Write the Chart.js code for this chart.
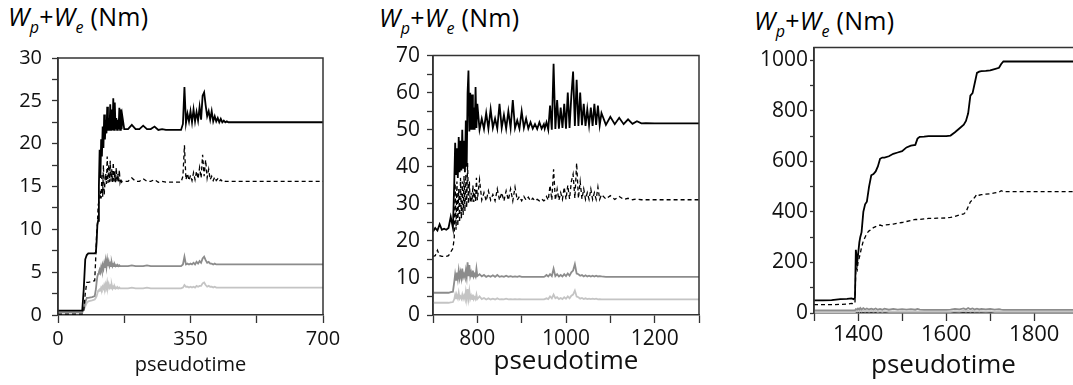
<!DOCTYPE html>
<html>
<head>
<meta charset="utf-8">
<script src="https://cdn.jsdelivr.net/npm/chart.js@4.4.1/dist/chart.umd.min.js"></script>
<style>
  html, body { margin: 0; padding: 0; background: #fff; }
  #wrap { position: relative; width: 1073px; height: 385px; overflow: hidden; font-family: 'Open Sans', sans-serif; }
  canvas { position: absolute; }
  .ttl { position: absolute; font-size: 25px; color: #000; white-space: nowrap; line-height: 1; letter-spacing: 0.3px; }
  .ttl i { font-style: italic; }
  .ttl sub { font-size: 16px; font-style: italic; vertical-align: -7px; line-height: 0; }
</style>
</head>
<body>
<div id="wrap">
  <div class="ttl" style="left:8px;top:4px"><i>W</i><sub>p</sub>+<i>W</i><sub>e</sub> (Nm)</div>
  <div class="ttl" style="left:379px;top:5px"><i>W</i><sub>p</sub>+<i>W</i><sub>e</sub> (Nm)</div>
  <div class="ttl" style="left:754px;top:8px"><i>W</i><sub>p</sub>+<i>W</i><sub>e</sub> (Nm)</div>
  <canvas id="c1" width="345" height="349" style="left:0;top:36px"></canvas>
  <canvas id="c2" width="360" height="349" style="left:360px;top:36px"></canvas>
  <canvas id="c3" width="353" height="352" style="left:720px;top:33px"></canvas>
</div>
<script>
'use strict';

// ---- panel 1 : pseudotime 0 - 700 ----
const p1X = [0, 64, 68, 72, 76, 80, 90, 97, 100,
  102, 104, 106, 108, 110, 112, 114, 116, 118, 120, 122, 124, 126, 128, 130, 132, 134, 136, 138, 140,
  142, 144, 146, 148, 150, 152, 154, 156, 158, 160, 162, 164, 166, 168, 170,
  175, 185, 195, 205, 215, 225, 235, 245, 255, 265, 275, 285, 295, 305, 315, 325,
  330, 334, 338, 342, 346, 350, 354, 358, 362, 366, 370, 374, 378, 382, 386, 390, 394, 398, 402, 406,
  410, 414, 418, 422, 426, 430, 434, 438, 442, 446, 450,
  470, 500, 550, 600, 650, 700];
const p1Black = [0.5, 0.5, 3, 6.5, 7.0, 7.2, 7.2, 7.2, 7.3,
  8.5, 10.5, 11, 15, 19.3, 16, 20.5, 18.5, 22, 19.5, 23.4, 20.5, 22.8, 21.2, 24.3, 21.5, 23, 21.5, 24.6, 21.6,
  24, 21.6, 25.3, 21.6, 24.8, 21.7, 23, 21.6, 22.8, 21.7, 24.2, 21.6, 24, 21.7, 23.2,
  21.7, 21.7, 22.2, 21.7, 21.7, 22.1, 21.7, 21.7, 22.0, 21.6, 21.7, 21.6, 21.6, 21.6, 21.6, 21.6,
  22.3, 26.6, 22.4, 23.5, 22.6, 23.8, 22.5, 24, 22.6, 23.7, 22.7, 24.3, 22.8, 25.6, 26, 24.5, 23.2, 23.8, 22.8, 23.8,
  22.6, 23.2, 22.6, 23, 22.5, 22.9, 22.5, 22.7, 22.5, 22.6, 22.5,
  22.5, 22.5, 22.5, 22.5, 22.5, 22.5];
const p1Dashed = [0.1, 0.1, 0.5, 2.5, 3.8, 3.8, 3.9, 4, 7,
  9.5, 10.5, 12.8, 13.2, 13.5, 14.5, 13.6, 16.5, 13.8, 17.5, 14, 15.5, 16.5, 15.3, 18.5, 15.4, 17.6, 15.5, 18, 15.6,
  17, 15.5, 17.8, 15.6, 16.8, 15.5, 17.2, 15.5, 16.5, 15.6, 16.9, 15.5, 15.9, 15.5, 15.6,
  15.6, 15.6, 16.0, 15.6, 15.6, 15.9, 15.6, 15.6, 15.8, 15.5, 15.6, 15.5, 15.5, 15.5, 15.5, 15.5,
  16.2, 19.8, 15.8, 16.5, 15.7, 16.3, 15.7, 16.6, 15.8, 16.8, 15.9, 17.2, 16, 18.7, 16.2, 18.1, 16, 17, 15.8, 16.2,
  15.7, 16.1, 15.7, 15.9, 15.6, 15.8, 15.6, 15.7, 15.6, 15.6, 15.6,
  15.6, 15.6, 15.6, 15.6, 15.6, 15.6];
const p1Dark = [0.3, 0.3, 0.8, 1.5, 2, 2, 2.1, 2.2, 3,
  3.8, 4.5, 4.8, 5.0, 5.3, 5.0, 5.6, 5.2, 5.8, 5.4, 6.0, 5.5, 6.3, 5.6, 6.4, 5.7, 6.2, 5.7, 6.0, 5.7,
  6.1, 5.7, 5.9, 5.7, 5.9, 5.7, 5.8, 5.7, 5.8, 5.7, 5.8, 5.7, 5.7, 5.7, 5.7,
  5.7, 5.7, 5.8, 5.7, 5.7, 5.7, 5.8, 5.7, 5.7, 5.7, 5.7, 5.7, 5.7, 5.7, 5.7, 5.7,
  5.9, 6.8, 5.9, 6.0, 5.9, 6.0, 5.9, 6.1, 5.9, 6.2, 6.0, 6.3, 6.1, 6.6, 6.8, 6.4, 6.1, 6.2, 6.0, 6.0,
  5.9, 6.0, 5.9, 5.9, 5.9, 5.9, 5.9, 5.9, 5.9, 5.9, 5.9,
  5.9, 5.9, 5.9, 5.9, 5.9, 5.9];
const p1Light = [0.3, 0.3, 0.6, 1.0, 1.4, 1.6, 1.7, 1.8, 2.0,
  2.2, 2.5, 2.8, 2.9, 3.0, 2.9, 3.2, 3.0, 3.3, 3.1, 3.5, 3.2, 3.6, 3.2, 3.8, 3.2, 3.6, 3.2, 3.4, 3.1,
  3.5, 3.1, 3.3, 3.1, 3.3, 3.1, 3.2, 3.1, 3.2, 3.1, 3.2, 3.1, 3.1, 3.1, 3.1,
  3.1, 3.1, 3.2, 3.1, 3.1, 3.1, 3.2, 3.1, 3.1, 3.1, 3.1, 3.1, 3.1, 3.1, 3.1, 3.1,
  3.2, 3.5, 3.3, 3.3, 3.2, 3.3, 3.2, 3.3, 3.2, 3.4, 3.3, 3.4, 3.4, 3.7, 3.8, 3.5, 3.3, 3.4, 3.3, 3.3,
  3.2, 3.3, 3.2, 3.2, 3.2, 3.2, 3.2, 3.2, 3.2, 3.2, 3.2,
  3.2, 3.2, 3.2, 3.2, 3.2, 3.2];
const p1XTicks = [0, 175, 350, 525, 700];
const p1XLabels = [0, 350, 700];
const p1YTicks = [0, 2.5, 5, 7.5, 10, 12.5, 15, 17.5, 20, 22.5, 25, 27.5, 30];
const p1YLabels = [0, 5, 10, 15, 20, 25, 30];

// ---- panel 2 : pseudotime 700 - 1300 ----
const p2X = [700, 705, 710, 715, 720, 725, 730, 735, 740, 745,
  748, 750, 752, 754, 756, 758, 760, 762, 764, 766, 768, 770, 772, 774, 776, 778, 780, 782, 784, 786,
  788, 790, 792, 794, 796, 798, 800,
  805, 810, 815, 820, 825, 830, 835, 840, 845, 850, 855, 860, 865, 870, 875, 880, 885, 890, 895, 900,
  905, 910, 915, 920, 925, 930, 935, 940, 945, 950,
  952, 956, 960, 964, 968, 972, 976, 980, 984, 988, 992, 996, 1000, 1004, 1008, 1012, 1016, 1020, 1024, 1028,
  1032, 1036, 1040, 1044, 1048, 1052, 1056, 1060, 1064, 1068, 1072, 1076, 1080,
  1090, 1100, 1110, 1120, 1130, 1140, 1150, 1160, 1170, 1180,
  1200, 1250, 1300];
const p2Black = [22.5, 23.5, 22.8, 24.5, 23, 23.3, 23, 23.5, 26.5, 23.5,
  36, 46.5, 38, 45, 37, 48, 38.5, 47, 39, 50, 39.5, 47, 38.5, 52.5, 40, 60, 66, 49.5, 60, 50,
  59.5, 50, 56, 50, 61.5, 50.5, 57,
  50, 53, 50.2, 54.5, 50.3, 55.5, 50.5, 53, 50.3, 57, 50.5, 54, 50.3, 55, 50.5, 58, 50.4, 52.5, 50.3, 55,
  50.5, 53, 50.3, 52, 50.3, 51.5, 50.2, 52, 50.3, 51.5,
  50.3, 52, 50, 56.5, 50, 67.8, 50.2, 58, 50.3, 56, 50.5, 57, 50.3, 60, 50.5, 59, 65.7, 51, 63.5, 51,
  60, 51.2, 57, 51, 55.5, 51.2, 56, 51, 57, 51.3, 56.5, 51.2, 54.5,
  51.3, 53.5, 51.5, 53.2, 51.5, 52.8, 51.6, 52.3, 51.7, 51.8,
  51.7, 51.7, 51.7];
const p2Dashed = [15.8, 16, 17.5, 16, 15.8, 15.8, 15.8, 16, 17, 18,
  21, 35.5, 23, 36, 24, 34, 25, 37, 26, 36, 27, 37.5, 28, 38, 29, 41, 30, 36, 30.5, 33,
  30.5, 35, 30.5, 34, 30.7, 37, 31,
  36.5, 31, 33, 30.8, 33.5, 31, 32.5, 30.8, 34, 31, 33, 30.8, 33.5, 31, 34, 30.8, 34.5, 31, 32, 30.8,
  32, 31, 31.8, 30.8, 31.5, 30.8, 31.2, 30.8, 31.3, 30.8,
  31, 32, 31, 35, 31, 39.3, 31, 34, 31, 33, 31.2, 34.5, 31.2, 35, 31.3, 36, 38, 31.5, 41, 31.5,
  36, 31.3, 34, 31.2, 33, 31.2, 34, 31.2, 33, 31.2, 34.5, 31.2, 32.5,
  31.3, 32.2, 31.2, 32, 31.2, 31.5, 31.1, 31.3, 31.1, 31.1,
  31.1, 31.1, 31.1];
const p2Dark = [6, 6, 6, 6, 6, 6, 6, 6, 6.2, 6.3,
  9, 11, 9.5, 11.5, 9.8, 12, 10, 11.5, 10, 12.5, 10.2, 11, 10.2, 12, 10.3, 14.2, 10.5, 13.5, 10.5, 11.5,
  10.4, 12, 10.4, 11, 10.4, 12.5, 10.5,
  11, 10.4, 10.8, 10.3, 10.6, 10.3, 10.7, 10.3, 10.8, 10.3, 10.5, 10.3, 10.6, 10.3, 10.5, 10.3, 10.4, 10.3, 10.5, 10.3,
  10.3, 10.3, 10.3, 10.3, 10.3, 10.3, 10.3, 10.3, 10.3, 10.3,
  10.4, 10.8, 10.4, 11, 10.5, 12.5, 10.5, 11, 10.4, 10.8, 10.4, 11, 10.5, 11.2, 10.6, 11.5, 12, 13.7, 11.2, 11,
  10.6, 10.8, 10.4, 10.7, 10.4, 10.6, 10.4, 10.6, 10.4, 10.6, 10.4, 10.5, 10.4,
  10.3, 10.3, 10.3, 10.3, 10.3, 10.3, 10.3, 10.3, 10.3, 10.3,
  10.3, 10.3, 10.3];
const p2Light = [3.3, 3.3, 3.3, 3.3, 3.3, 3.3, 3.3, 3.3, 3.4, 3.5,
  4.3, 5.5, 4.5, 5.2, 4.5, 6, 4.5, 5.0, 4.4, 5.5, 4.4, 5.2, 4.4, 6.3, 4.4, 7, 4.5, 6.5, 4.4, 5.2,
  4.3, 5.5, 4.3, 4.8, 4.3, 5.5, 4.3,
  5, 4.3, 4.6, 4.2, 4.5, 4.2, 4.4, 4.2, 4.5, 4.2, 4.3, 4.2, 4.4, 4.2, 4.3, 4.2, 4.3, 4.2, 4.3, 4.2,
  4.2, 4.2, 4.2, 4.2, 4.2, 4.2, 4.2, 4.2, 4.2, 4.2,
  4.3, 4.5, 4.3, 5, 4.5, 5.5, 4.5, 4.8, 4.3, 4.6, 4.3, 4.8, 4.4, 5, 4.5, 5.2, 5.5, 6.6, 5, 4.8,
  4.4, 4.6, 4.3, 4.5, 4.3, 4.4, 4.3, 4.4, 4.3, 4.4, 4.2, 4.3, 4.2,
  4.2, 4.2, 4.2, 4.2, 4.2, 4.2, 4.2, 4.2, 4.2, 4.2,
  4.2, 4.2, 4.2];
const p2XTicks = [700, 800, 900, 1000, 1100, 1200, 1300];
const p2XLabels = [800, 1000, 1200];
const p2YTicks = [0, 5, 10, 15, 20, 25, 30, 35, 40, 45, 50, 55, 60, 65, 70];
const p2YLabels = [0, 10, 20, 30, 40, 50, 60, 70];

// ---- panel 3 : pseudotime 1300 - ~1890 ----
const p3X = [1300, 1320, 1340, 1360, 1375, 1385, 1390, 1393, 1395, 1398,
  1400, 1403, 1405, 1408, 1412, 1416, 1420, 1425, 1430, 1435,
  1440, 1445, 1450, 1455, 1460, 1470, 1480, 1490, 1500, 1510,
  1520, 1530, 1535, 1540, 1550, 1560, 1580, 1600, 1610, 1620,
  1630, 1640, 1645, 1650, 1655, 1660, 1665, 1670, 1675, 1680,
  1690, 1700, 1710, 1720, 1725, 1730, 1740, 1760, 1800, 1850, 1888];
const p3Black = [50, 50, 51, 55, 56, 58, 55, 60, 250, 200,
  230, 280, 300, 320, 400, 430, 440, 500, 545, 550,
  560, 580, 610, 615, 615, 620, 630, 635, 640, 655,
  662, 665, 690, 697, 698, 700, 700, 700, 702, 715,
  730, 745, 760, 790, 860, 870, 910, 950, 955, 957,
  958, 960, 965, 970, 985, 995, 995, 995, 995, 995, 995];
const p3Dashed = [33, 33, 33, 34, 35, 38, 36, 38, 180, 170,
  200, 220, 235, 260, 285, 300, 315, 325, 330, 338,
  342, 345, 348, 345, 348, 350, 352, 355, 358, 362,
  366, 370, 370, 370, 372, 374, 375, 376, 378, 382,
  388, 392, 400, 420, 440, 448, 458, 470, 466, 468,
  470, 472, 475, 478, 484, 480, 480, 480, 480, 480, 480];
const p3Dark = [10, 10, 10, 10, 10, 10, 10, 10, 15, 13,
  18, 14, 20, 14, 19, 14, 18, 14, 17, 14,
  18, 13, 16, 13, 17, 13, 16, 13, 15, 13,
  15, 13, 16, 13, 12, 12, 12, 12, 13, 16,
  14, 18, 14, 20, 15, 18, 14, 17, 14, 16,
  14, 16, 13, 15, 13, 12, 12, 12, 12, 12, 12];
const p3Light = [4, 4, 4, 4, 4, 4, 4, 4, 7, 6,
  9, 6, 10, 6, 9, 6, 8, 6, 8, 6,
  8, 5, 7, 5, 7, 5, 6, 5, 6, 5,
  6, 5, 6, 5, 5, 5, 5, 5, 5, 7,
  6, 8, 6, 9, 6, 8, 6, 7, 6, 7,
  6, 7, 5, 6, 5, 5, 5, 5, 5, 5, 5];
const p3XTicks = [1300, 1400, 1500, 1600, 1700, 1800];
const p3XLabels = [1400, 1600, 1800];
const p3YTicks = [0, 100, 200, 300, 400, 500, 600, 700, 800, 900, 1000];
const p3YLabels = [0, 200, 400, 600, 800, 1000];

const FONT = "'Open Sans', sans-serif";
const AXIS = '#333';

// box around the plot area (right side left open on the cut-off panel)
const framePlugin = {
  id: 'frame',
  afterDatasetsDraw(chart, args, opts) {
    const { ctx, chartArea: a } = chart;
    ctx.save();
    ctx.strokeStyle = AXIS;
    ctx.lineWidth = 1.5;
    ctx.beginPath();
    ctx.moveTo(a.left, a.bottom);
    ctx.lineTo(a.left, a.top);
    ctx.lineTo(a.right, a.top);
    if (!opts.openRight) ctx.lineTo(a.right, a.bottom);
    ctx.stroke();
    ctx.restore();
  }
};

function series(xs, ys) {
  return xs.map((x, i) => ({ x: x, y: ys[i] }));
}

function makePanel(id, p) {
  const ctx = document.getElementById(id).getContext('2d');
  return new Chart(ctx, {
    type: 'line',
    data: {
      datasets: [
        { data: series(p.x, p.black), borderColor: '#000', borderWidth: 1.8 },
        { data: series(p.x, p.dashed), borderColor: '#000', borderWidth: 1.3, borderDash: [4, 3] },
        { data: series(p.x, p.dark), borderColor: '#8c8c8c', borderWidth: 1.8 },
        { data: series(p.x, p.light), borderColor: '#c4c4c4', borderWidth: 1.8 }
      ]
    },
    options: {
      responsive: false,
      animation: false,
      events: [],
      elements: { point: { radius: 0 }, line: { tension: 0, fill: false } },
      layout: { padding: { top: p.padTop, right: p.padRight, left: 0, bottom: 0 } },
      plugins: { legend: { display: false }, tooltip: { enabled: false }, frame: { openRight: !!p.openRight } },
      scales: {
        x: {
          type: 'linear',
          min: p.xMin,
          max: p.xMax,
          afterBuildTicks: (s) => { s.ticks = p.xTicks.map(v => ({ value: v })); },
          afterFit: (s) => { s.height = p.xAxisHeight; },
          grid: { drawOnChartArea: false, tickLength: p.xTickLen, color: AXIS, tickWidth: 1.3 },
          border: { color: AXIS, width: 1.5 },
          ticks: {
            autoSkip: false, maxRotation: 0, padding: p.xTickPad, color: '#111',
            font: { family: FONT, size: p.xFont },
            callback: (v) => p.xLabels.includes(v) ? String(v) : ''
          },
          title: {
            display: true, text: 'pseudotime', color: '#111',
            font: { family: FONT, size: p.titleFont },
            padding: { top: 0, bottom: p.titlePad }
          }
        },
        y: {
          type: 'linear',
          min: 0,
          max: p.yMax,
          afterBuildTicks: (s) => { s.ticks = p.yTicks.map(v => ({ value: v })); },
          afterFit: (s) => { s.width = p.yAxisWidth; },
          grid: { drawOnChartArea: false, tickLength: p.yTickLen, color: AXIS, tickWidth: 1.3 },
          border: { color: AXIS, width: 1.5 },
          ticks: {
            autoSkip: false, padding: p.yTickPad, color: '#111',
            font: { family: FONT, size: p.yFont },
            callback: (v) => p.yLabels.includes(v) ? String(v) : ''
          }
        }
      }
    },
    plugins: [framePlugin]
  });
}

makePanel('c1', {
  x: p1X, black: p1Black, dashed: p1Dashed, dark: p1Dark, light: p1Light,
  xMin: 0, xMax: 700, yMax: 30,
  xTicks: p1XTicks, xLabels: p1XLabels, yTicks: p1YTicks, yLabels: p1YLabels,
  padTop: 14, padRight: 22, yAxisWidth: 58, xAxisHeight: 70,
  xTickLen: 8, xTickPad: 4, yTickLen: 6, yTickPad: 10,
  xFont: 20, yFont: 20, titleFont: 20, titlePad: 8
});

makePanel('c2', {
  x: p2X, black: p2Black, dashed: p2Dashed, dark: p2Dark, light: p2Light,
  xMin: 700, xMax: 1300, yMax: 70,
  xTicks: p2XTicks, xLabels: p2XLabels, yTicks: p2YTicks, yLabels: p2YLabels,
  padTop: 16, padRight: 21, yAxisWidth: 73, xAxisHeight: 70,
  xTickLen: 8, xTickPad: 3, yTickLen: 6, yTickPad: 7,
  xFont: 21, yFont: 21, titleFont: 26, titlePad: 8
});

makePanel('c3', {
  x: p3X, black: p3Black, dashed: p3Dashed, dark: p3Dark, light: p3Light,
  xMin: 1300, xMax: 1888, yMax: 1050, openRight: true,
  xTicks: p3XTicks, xLabels: p3XLabels, yTicks: p3YTicks, yLabels: p3YLabels,
  padTop: 14, padRight: 0, yAxisWidth: 94, xAxisHeight: 72,
  xTickLen: 8, xTickPad: 1, yTickLen: 4, yTickPad: 2,
  xFont: 22, yFont: 21, titleFont: 26, titlePad: 4
});
</script>
</body>
</html>
